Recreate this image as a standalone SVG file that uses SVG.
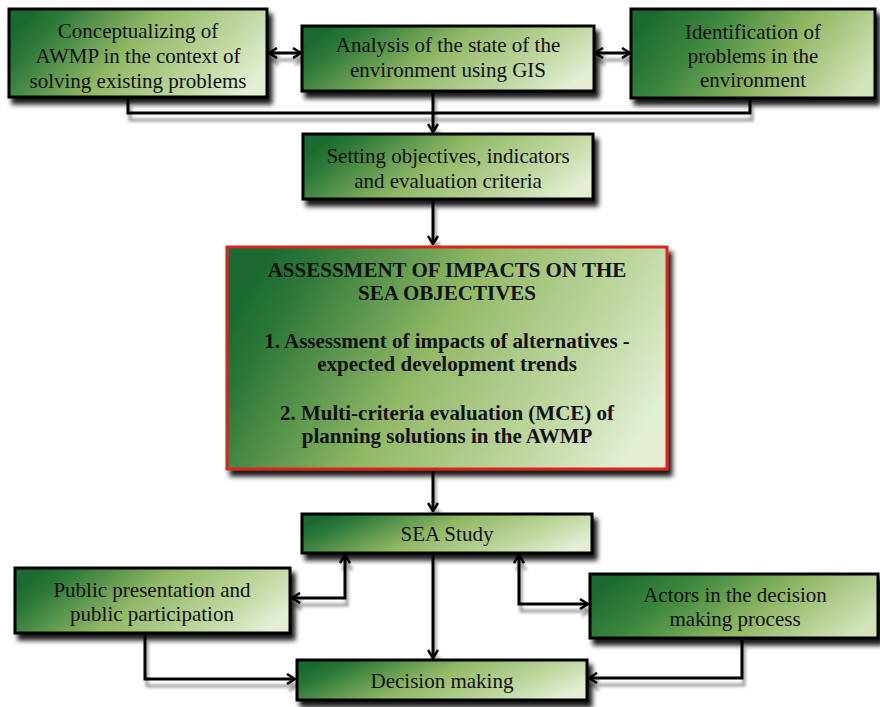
<svg xmlns="http://www.w3.org/2000/svg" width="880" height="707" viewBox="0 0 880 707">
  <defs>
    <linearGradient id="g1" x1="0" y1="0.35" x2="1" y2="0.65">
      <stop offset="0" stop-color="#1c6b31"/>
      <stop offset="0.1" stop-color="#2c7838"/>
      <stop offset="0.45" stop-color="#92b966"/>
      <stop offset="0.8" stop-color="#c2d9a4"/>
      <stop offset="1" stop-color="#e3eed4"/>
    </linearGradient>
    <linearGradient id="g2" x1="0" y1="0.35" x2="1" y2="0.65">
      <stop offset="0" stop-color="#1c6b31"/>
      <stop offset="0.25" stop-color="#3a853d"/>
      <stop offset="0.6" stop-color="#8fb662"/>
      <stop offset="1" stop-color="#d3e3b9"/>
    </linearGradient>
    <filter id="sh" x="-10%" y="-20%" width="130%" height="150%">
      <feDropShadow dx="4" dy="6" stdDeviation="2.5" flood-color="#000" flood-opacity="0.9"/>
    </filter>
    <filter id="lsh" x="-10%" y="-30%" width="130%" height="200%">
      <feDropShadow dx="2" dy="7" stdDeviation="1.5" flood-color="#000" flood-opacity="0.4"/>
    </filter>
    <marker id="ah" viewBox="0 0 10 12" refX="9" refY="6" markerWidth="10" markerHeight="12" markerUnits="userSpaceOnUse" orient="auto-start-reverse">
      <path d="M1,1 L9,6 L1,11" fill="none" stroke="#000" stroke-width="2.5"/>
    </marker>
    <style>
      .box { stroke: #000; stroke-width: 3; filter: url(#sh); }
      .t { font-family: "Liberation Serif", "Times New Roman", Times, serif; font-size: 21px; fill: #111; text-anchor: middle; }
      .b { font-weight: bold; }
      .c { fill: none; stroke: #000; stroke-width: 3; }
    </style>
  </defs>
  <rect width="880" height="707" fill="#fff"/>

  <g id="connectors" filter="url(#lsh)">
    <line class="c" x1="269" y1="53" x2="301" y2="53" marker-start="url(#ah)" marker-end="url(#ah)"/>
    <line class="c" x1="595" y1="53" x2="630" y2="53" marker-start="url(#ah)" marker-end="url(#ah)"/>
    <polyline class="c" points="128,99 128,113 750,113 750,99"/>
    <line class="c" x1="433" y1="93" x2="433" y2="132" marker-end="url(#ah)"/>
    <line class="c" x1="433" y1="201" x2="433" y2="244" marker-end="url(#ah)"/>
    <line class="c" x1="433" y1="471" x2="433" y2="511" marker-end="url(#ah)"/>
    <line class="c" x1="433" y1="555" x2="433" y2="658" marker-end="url(#ah)"/>
    <path class="c" d="M292,598 H345 V555" marker-start="url(#ah)" marker-end="url(#ah)"/>
    <path class="c" d="M519,555 V604 H588" marker-start="url(#ah)" marker-end="url(#ah)"/>
    <path class="c" d="M145,635 V679 H295" marker-end="url(#ah)"/>
    <path class="c" d="M742,640 V678 H589" marker-end="url(#ah)"/>
  </g>

  <g id="conceptualizing">
    <rect class="box" x="9" y="9" width="258" height="88" fill="url(#g1)"/>
    <text class="t" x="138" y="38">Conceptualizing of</text>
    <text class="t" x="138" y="63">AWMP in the context of</text>
    <text class="t" x="138" y="88">solving existing problems</text>
  </g>

  <g id="analysis">
    <rect class="box" x="302" y="26" width="292" height="65" fill="url(#g1)"/>
    <text class="t" x="448" y="52">Analysis of the state of the</text>
    <text class="t" x="448" y="77">environment using GIS</text>
  </g>

  <g id="identification">
    <rect class="box" x="631" y="9" width="244" height="89" fill="url(#g2)"/>
    <text class="t" x="753" y="39">Identification of</text>
    <text class="t" x="753" y="63">problems in the</text>
    <text class="t" x="753" y="87">environment</text>
  </g>

  <g id="setting">
    <rect class="box" x="303" y="134" width="290" height="65" fill="url(#g1)"/>
    <text class="t" x="448" y="163">Setting objectives, indicators</text>
    <text class="t" x="448" y="188">and evaluation criteria</text>
  </g>

  <g id="assessment">
    <rect x="227" y="247" width="440" height="222" fill="url(#g1)" stroke="#d8261e" stroke-width="3" filter="url(#sh)"/>
    <text class="t b" x="447" y="277">ASSESSMENT OF IMPACTS ON THE</text>
    <text class="t b" x="447" y="300">SEA OBJECTIVES</text>
    <text class="t b" x="447" y="348">1. Assessment of impacts of alternatives -</text>
    <text class="t b" x="447" y="371">expected development trends</text>
    <text class="t b" x="447" y="420">2. Multi-criteria evaluation (MCE) of</text>
    <text class="t b" x="447" y="443">planning solutions in the AWMP</text>
  </g>

  <g id="sea-study">
    <rect class="box" x="302" y="514" width="290" height="39" fill="url(#g1)"/>
    <text class="t" x="447" y="541">SEA Study</text>
  </g>

  <g id="public">
    <rect class="box" x="15" y="568" width="275" height="65" fill="url(#g1)"/>
    <text class="t" x="152" y="597">Public presentation and</text>
    <text class="t" x="152" y="621">public participation</text>
  </g>

  <g id="actors">
    <rect class="box" x="590" y="574" width="288" height="64" fill="url(#g2)"/>
    <text class="t" x="735" y="602">Actors in the decision</text>
    <text class="t" x="735" y="626">making process</text>
  </g>

  <g id="decision">
    <rect class="box" x="297" y="660" width="290" height="40" fill="url(#g1)"/>
    <text class="t" x="442" y="688">Decision making</text>
  </g>
</svg>
